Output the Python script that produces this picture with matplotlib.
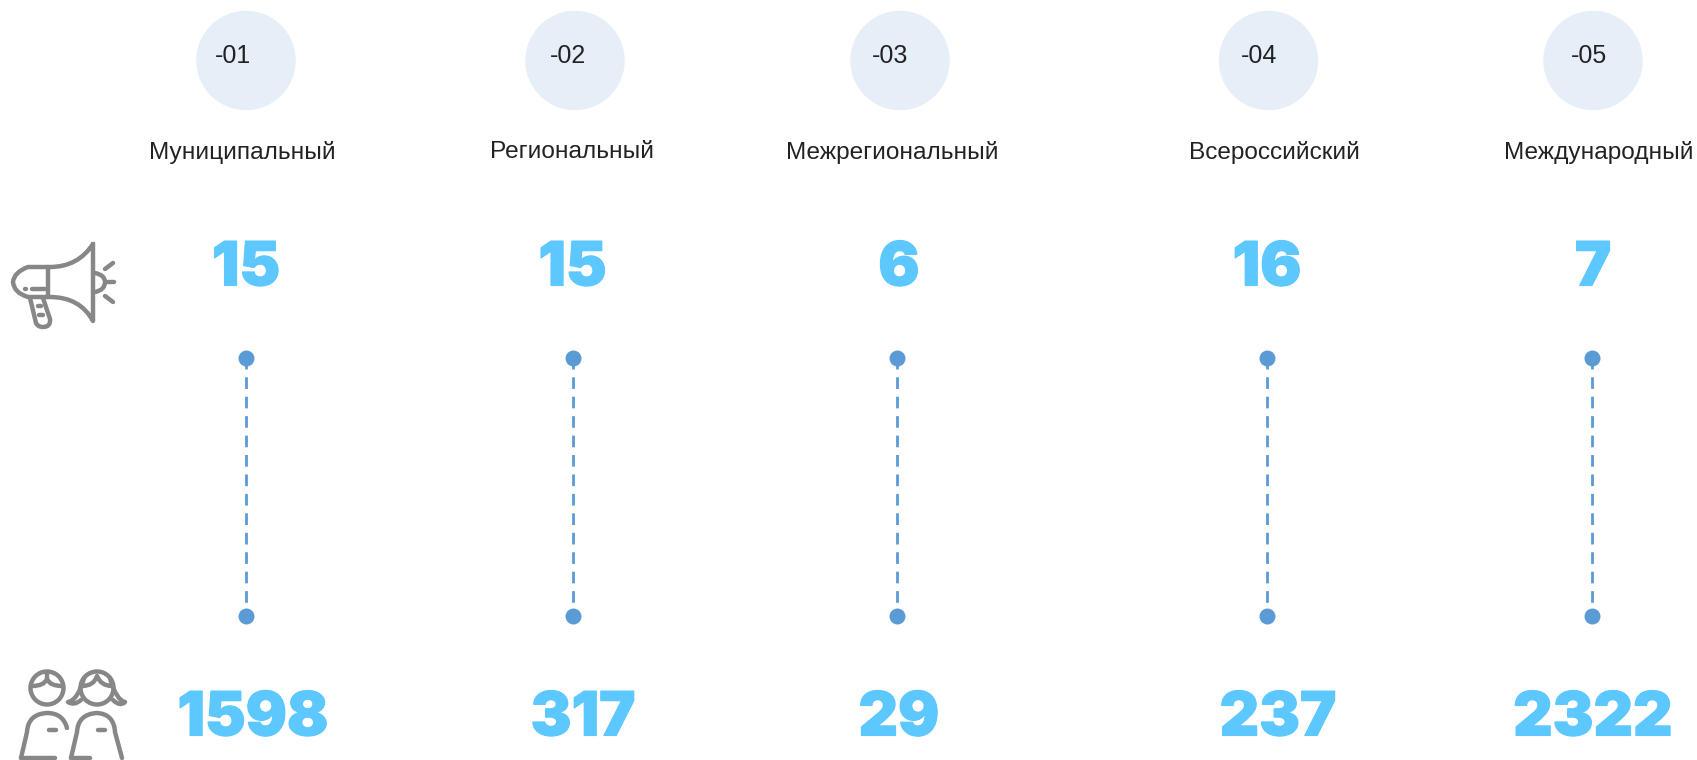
import matplotlib
matplotlib.use("Agg")
import matplotlib.pyplot as plt
import matplotlib.patheffects as pe
from matplotlib import font_manager as fm
from matplotlib.path import Path
from matplotlib.patches import Circle, PathPatch

# data
codes = ["-01", "-02", "-03", "-04", "-05"]
levels = ["Муниципальный", "Региональный", "Межрегиональный", "Всероссийский", "Международный"]
events = [15, 15, 6, 16, 7]
people = [1598, 317, 29, 237, 2322]

# layout in pixels of the original picture
circle_x = [246, 575, 900, 1268.5, 1593]
code_x = [233, 568, 890, 1259, 1589]
level_x = [242, 572.5, 892, 1274, 1598.5]
events_x = [246, 572.5, 899, 1267, 1593]
people_x = [253, 583, 899, 1278, 1593]
line_x = [245.7, 572.7, 897.3, 1267.3, 1592]

BLUE = "#5CC8FF"
DOT = "#5B9BD5"
PALE = "#E6EEF7"
GREY = "#878787"

names = {f.name for f in fm.fontManager.ttflist}
narrow = "Liberation Sans Narrow" if "Liberation Sans Narrow" in names else "Liberation Sans"

fig = plt.figure(figsize=(16.97, 7.6), dpi=100)
ax = fig.add_axes([0, 0, 1, 1])
ax.set_xlim(0, 1697)
ax.set_ylim(760, 0)
ax.axis("off")

for i in range(5):
    ax.add_patch(Circle((circle_x[i], 60.5), 49.7, fc=PALE, ec="none"))
    ax.text(code_x[i], 56, codes[i], ha="center", va="center", fontsize=18, family=narrow, color="#222222")
    ax.text(level_x[i], 150, levels[i], ha="center", va="center_baseline", fontsize=17.6, family=narrow, color="#222222")
    for val, xx, yy in [(events[i], events_x[i], 263), (people[i], people_x[i], 713)]:
        ax.text(xx, yy, str(val), ha="center", va="center_baseline", fontsize=44, family="Inter",
                weight="black", color=BLUE,
                path_effects=[pe.withStroke(linewidth=0.8, foreground=BLUE)])
    ax.plot([line_x[i], line_x[i]], [358, 616], color=DOT, lw=2, ls=(0.25, (4.2, 2.8)), zorder=2)
    ax.plot([line_x[i], line_x[i]], [358, 616], "o", color=DOT, ms=11.5, mec="none", zorder=3)


def icon(verts, codes_):
    ax.add_patch(PathPatch(Path(verts, codes_), fc="none", ec=GREY, lw=3.2,
                           capstyle="round", joinstyle="round"))


M, L, C = Path.MOVETO, Path.LINETO, Path.CURVE3


def seg(*pts):
    icon(pts, [M] + [L] * (len(pts) - 1))


# megaphone
icon([(93, 244), (78, 267), (50, 267), (28, 267), (14, 272), (13, 282), (14, 293), (28, 297),
      (50, 297), (80, 297), (93, 321), (93, 244)],
     [M, C, C, L, C, C, C, C, L, C, C, L])
seg((48, 267), (48, 297))
seg((32, 289), (45, 289))
seg((25, 289), (25.5, 289))
icon([(30, 298), (36, 323), (38, 327), (43, 327), (51, 327), (50, 319), (43, 298)],
     [M, L, C, C, C, C, L])
seg((41, 306), (38, 306))
seg((43, 315), (39, 315))
icon([(95, 273), (105, 275), (105, 282), (105, 290), (95, 292)], [M, C, C, C, C])
seg((105, 269), (113, 263))
seg((108, 282), (114, 282))
seg((105, 296), (113, 302))

# people
for cx in (47, 97):
    ax.add_patch(Circle((cx, 688), 16.5, fc="none", ec=GREY, lw=3.2))
icon([(32, 686), (44, 686), (47, 679), (50, 686), (62, 686)], [M, C, C, C, C])
seg((47, 672), (47, 679))
icon([(82, 686), (94, 686), (97, 676), (101, 686), (112, 686)], [M, C, C, C, C])
icon([(84, 678), (78, 700), (68, 702), (74, 706), (81, 700)], [M, C, C, C, C])
icon([(110, 678), (116, 700), (125, 702), (120, 707), (113, 700)], [M, C, C, C, C])
icon([(21, 758), (27, 732), (28, 714), (47, 713), (63, 713), (67, 728)], [M, L, C, C, C, C])
seg((21, 758), (55, 758))
seg((49, 730), (56, 730))
icon([(71, 758), (77, 732), (78, 714), (97, 713), (114, 714), (115, 732), (122, 758)],
     [M, L, C, C, C, C, L])
seg((71, 758), (90, 758))
seg((98, 730), (105, 730))

fig.savefig("out.png", dpi=100)
